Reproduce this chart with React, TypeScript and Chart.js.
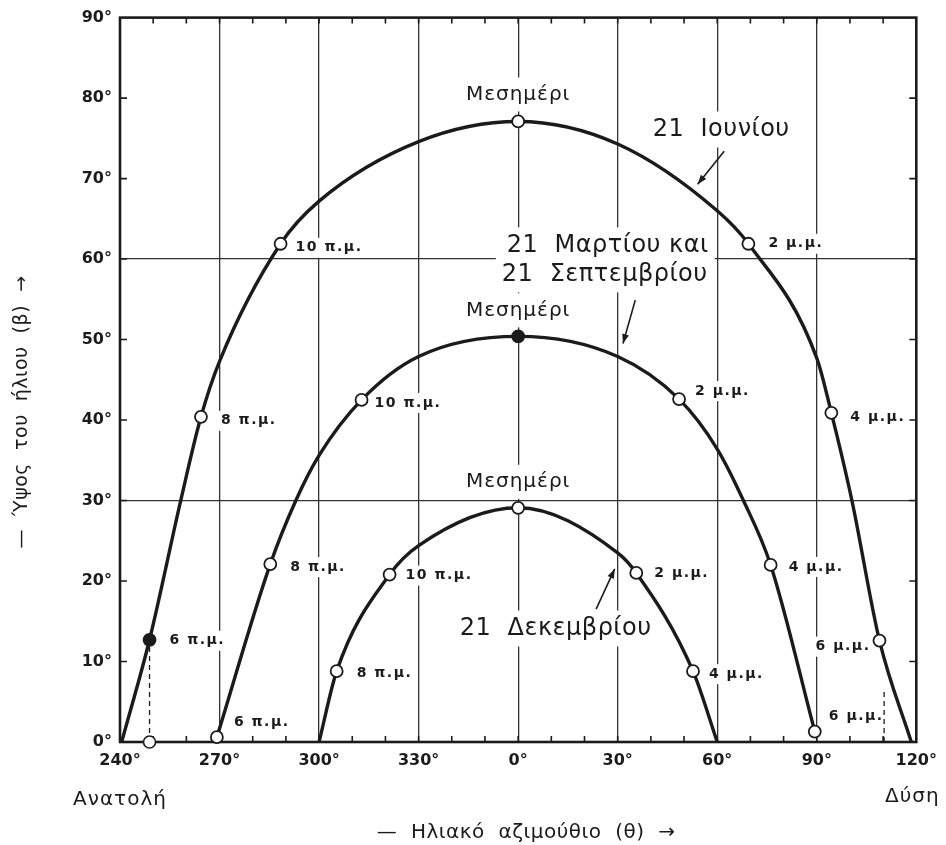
import React, { useEffect, useRef } from 'react';
import { Chart, registerables } from 'chart.js';

Chart.register(...registerables);

// ---------------- Data ----------------
const azimuthTicks = [-120, -90, -60, -30, 0, 30, 60, 90, 120];
const azimuthTickLabels = ['240°', '270°', '300°', '330°', '0°', '30°', '60°', '90°', '120°'];
const altitudeTicks = [0, 10, 20, 30, 40, 50, 60, 70, 80, 90];
const altitudeTickLabels = ['0°', '10°', '20°', '30°', '40°', '50°', '60°', '70°', '80°', '90°'];
const altitudeGridLines = [30, 60];

// 21 June path
const juneAzimuth = [-119.5, -111.1, -101.7, -95.6, -90, -71.6, -60, -30, 0, 30, 60, 69.4, 90, 94.4, 100.6, 108.9, 118.5];
const juneAltitude = [0, 12.7, 30, 40.4, 47.3, 61.9, 67.2, 74.6, 77.1, 74.3, 66.0, 61.9, 47.7, 40.9, 30, 12.6, 0];
const juneHourAzimuth = [-111.1, -95.6, -71.6, 0, 69.4, 94.4, 108.9];
const juneHourAltitude = [12.7, 40.4, 61.9, 77.1, 61.9, 40.9, 12.6];
const juneHourLabels = ['6 π.μ.', '8 π.μ.', '10 π.μ.', 'Μεσημέρι', '2 μ.μ.', '4 μ.μ.', '6 μ.μ.'];

// 21 March / 21 September path
const marchAzimuth = [-90.8, -74.7, -67.0, -60, -47.2, -30, 0, 30, 48.5, 60, 67.9, 76.1, 89.4];
const marchAltitude = [0.6, 22.1, 30, 35.6, 42.5, 47.9, 50.4, 47.9, 42.6, 36.4, 30, 22.0, 1.3];
const marchHourAzimuth = [-90.8, -74.7, -47.2, 0, 48.5, 76.1, 89.4];
const marchHourAltitude = [0.6, 22.1, 42.5, 50.4, 42.6, 22.0, 1.3];
const marchHourLabels = ['6 π.μ.', '8 π.μ.', '10 π.μ.', 'Μεσημέρι', '2 μ.μ.', '4 μ.μ.', '6 μ.μ.'];

// 21 December path
const decAzimuth = [-60, -54.7, -38.75, -30, 0, 30, 35.6, 52.7, 60];
const decAltitude = [0, 8.8, 20.8, 24.4, 29.1, 23.5, 21.0, 8.8, 0];
const decHourAzimuth = [-54.7, -38.75, 0, 35.6, 52.7];
const decHourAltitude = [8.8, 20.8, 29.1, 21.0, 8.8];
const decHourLabels = ['8 π.μ.', '10 π.μ.', 'Μεσημέρι', '2 μ.μ.', '4 μ.μ.'];

// dashed guides (June sunrise / sunset hours)
const sunriseGuideAzimuth = [-111.1, -111.1];
const sunriseGuideAltitude = [0, 12.7];
const sunsetGuideAzimuth = [110.3, 110.3];
const sunsetGuideAltitude = [0, 6.2];

const seriesTitles = ['21  Ιουνίου', '21  Μαρτίου και', '21  Σεπτεμβρίου', '21  Δεκεμβρίου'];
const eastLabel = 'Ανατολή';
const westLabel = 'Δύση';
const xAxisTitle = '—  Ηλιακό  αζιμούθιο  (θ)  →';
const yAxisTitle = '—  Ύψος  του  ήλιου  (β)  →';

// ---------------- Styles / placement ----------------
const INK = '#1b1b1b';
const GRID = '#333333';
const FAMILY = '"DejaVu Sans", "Noto Sans", sans-serif';

type Place = [number, number, 'left' | 'right' | 'center'];
const juneLabelPlace: Place[] = [[20, 1, 'left'], [20, 4, 'left'], [15, 4, 'left'], [0, -27, 'center'], [20, 0, 'left'], [19, 5, 'left'], [-9, 6, 'right']];
const marchLabelPlace: Place[] = [[17, -15, 'left'], [20, 3, 'left'], [13, 3, 'left'], [0, -26, 'center'], [16, -8, 'left'], [18, 2, 'left'], [14, -15, 'left']];
const decLabelPlace: Place[] = [[20, 2, 'left'], [16, 1, 'left'], [0, -26, 'center'], [18, 0, 'left'], [16, 3, 'left']];
const titlePlace = [
  { az: 61.2, alt: 76.1 },
  { az: 27.0, alt: 61.7 },
  { az: 26.1, alt: 58.1 },
  { az: 11.3, alt: 14.1 },
];
const arrowPlace = [
  { from: [62.1, 73.4], to: [54.1, 69.3] },
  { from: [35.3, 54.9], to: [31.6, 49.5] },
  { from: [23.5, 16.5], to: [29.1, 21.5] },
];

type Label = { text: string; x: number; y: number; align: 'left' | 'right' | 'center'; font: string; size: number; spacing: number; padX: number; padY: number };

function buildLabels(chart: any): Label[] {
  const xs = chart.scales.x;
  const ys = chart.scales.y;
  const out: Label[] = [];
  const addHours = (az: number[], alt: number[], texts: string[], place: Place[]) => {
    texts.forEach((t, i) => {
      const [dx, dy, align] = place[i];
      const noon = align === 'center';
      out.push({
        text: t,
        x: xs.getPixelForValue(az[i]) + dx,
        y: ys.getPixelForValue(alt[i]) + dy,
        align,
        font: noon ? `20px ${FAMILY}` : `bold 14px ${FAMILY}`,
        size: noon ? 20 : 14,
        spacing: noon ? 1 : 1.5,
        padX: noon ? 6 : 3,
        padY: noon ? 7 : 3,
      });
    });
  };
  addHours(juneHourAzimuth, juneHourAltitude, juneHourLabels, juneLabelPlace);
  addHours(marchHourAzimuth, marchHourAltitude, marchHourLabels, marchLabelPlace);
  addHours(decHourAzimuth, decHourAltitude, decHourLabels, decLabelPlace);
  seriesTitles.forEach((t, i) => {
    out.push({
      text: t,
      x: xs.getPixelForValue(titlePlace[i].az),
      y: ys.getPixelForValue(titlePlace[i].alt),
      align: 'center',
      font: `24px ${FAMILY}`,
      size: 24,
      spacing: 0.5,
      padX: 6,
      padY: 6,
    });
  });
  return out;
}

function setFont(ctx: CanvasRenderingContext2D, l: { font: string; spacing: number }) {
  ctx.font = l.font;
  try {
    (ctx as any).letterSpacing = `${l.spacing}px`;
  } catch (e) {
    /* ignore */
  }
}

const annotate = {
  id: 'annotate',
  beforeDatasetsDraw(chart: any) {
    const { ctx, chartArea } = chart;
    const xs = chart.scales.x;
    const ys = chart.scales.y;
    const labels = buildLabels(chart);
    ctx.save();
    ctx.fillStyle = '#ffffff';
    labels.forEach((l) => {
      setFont(ctx, l);
      const w = ctx.measureText(l.text).width;
      let left = l.x;
      if (l.align === 'center') left = l.x - w / 2;
      if (l.align === 'right') left = l.x - w;
      ctx.fillRect(left - l.padX, l.y - l.size / 2 - l.padY, w + 2 * l.padX, l.size + 2 * l.padY);
    });
    (ctx as any).letterSpacing = '0px';
    ctx.strokeStyle = INK;
    ctx.lineWidth = 2.6;
    ctx.strokeRect(chartArea.left, chartArea.top, chartArea.right - chartArea.left, chartArea.bottom - chartArea.top);
    ctx.lineWidth = 1.6;
    ctx.beginPath();
    for (let v = -110; v <= 110; v += 10) {
      const px = xs.getPixelForValue(v);
      ctx.moveTo(px, chartArea.bottom);
      ctx.lineTo(px, chartArea.bottom - 6);
      ctx.moveTo(px, chartArea.top);
      ctx.lineTo(px, chartArea.top + 6);
    }
    for (let v = 10; v <= 80; v += 10) {
      const py = ys.getPixelForValue(v);
      ctx.moveTo(chartArea.left, py);
      ctx.lineTo(chartArea.left + 7, py);
      ctx.moveTo(chartArea.right, py);
      ctx.lineTo(chartArea.right - 7, py);
    }
    ctx.stroke();
    ctx.restore();
  },
  afterDatasetsDraw(chart: any) {
    const { ctx } = chart;
    const xs = chart.scales.x;
    const ys = chart.scales.y;
    const labels = buildLabels(chart);
    ctx.save();
    ctx.fillStyle = INK;
    ctx.textBaseline = 'middle';
    labels.forEach((l) => {
      setFont(ctx, l);
      ctx.textAlign = l.align;
      ctx.fillText(l.text, l.x, l.y);
    });
    (ctx as any).letterSpacing = '0px';
    ctx.strokeStyle = INK;
    ctx.lineWidth = 1.6;
    arrowPlace.forEach((a) => {
      const x1 = xs.getPixelForValue(a.from[0]);
      const y1 = ys.getPixelForValue(a.from[1]);
      const x2 = xs.getPixelForValue(a.to[0]);
      const y2 = ys.getPixelForValue(a.to[1]);
      ctx.beginPath();
      ctx.moveTo(x1, y1);
      ctx.lineTo(x2, y2);
      ctx.stroke();
      const ang = Math.atan2(y2 - y1, x2 - x1);
      const hl = 10;
      ctx.beginPath();
      ctx.moveTo(x2, y2);
      ctx.lineTo(x2 - hl * Math.cos(ang - 0.35), y2 - hl * Math.sin(ang - 0.35));
      ctx.lineTo(x2 - hl * Math.cos(ang + 0.35), y2 - hl * Math.sin(ang + 0.35));
      ctx.closePath();
      ctx.fill();
    });
    ctx.restore();
  },
  afterDraw(chart: any) {
    const { ctx, chartArea } = chart;
    const xs = chart.scales.x;
    ctx.save();
    ctx.fillStyle = INK;
    ctx.textBaseline = 'middle';
    ctx.font = `20px ${FAMILY}`;
    (ctx as any).letterSpacing = '1px';
    ctx.textAlign = 'center';
    ctx.fillText(eastLabel, xs.getPixelForValue(-120), 800);
    ctx.fillText(westLabel, xs.getPixelForValue(120) - 4, 797);
    ctx.font = `20px ${FAMILY}`;
    (ctx as any).letterSpacing = '0.5px';
    ctx.fillText(xAxisTitle, (chartArea.left + chartArea.right) / 2 + 8, 833);
    ctx.font = `19px ${FAMILY}`;
    ctx.translate(22, 412);
    ctx.rotate(-Math.PI / 2);
    ctx.fillText(yAxisTitle, 0, 0);
    ctx.restore();
  },
};

export default function App() {
  const ref = useRef<HTMLCanvasElement>(null);

  useEffect(() => {
    if (!ref.current) return;
    const toPts = (xs: number[], ys: number[]) => xs.map((x, i) => ({ x, y: ys[i] }));
    const curve = (label: string, xs: number[], ys: number[]) => ({
      type: 'line' as const,
      label,
      data: toPts(xs, ys),
      borderColor: INK,
      borderWidth: 3.4,
      pointRadius: 0,
      cubicInterpolationMode: 'monotone' as const,
      fill: false,
      order: 3,
    });
    const markers = (label: string, xs: number[], ys: number[], filled: number[]) => ({
      type: 'scatter' as const,
      label,
      data: toPts(xs, ys),
      showLine: false,
      pointRadius: 6,
      pointHoverRadius: 6,
      pointBorderWidth: 1.8,
      pointBorderColor: INK,
      pointBackgroundColor: (c: any) => (filled.includes(c.dataIndex) ? INK : '#ffffff'),
      clip: false as any,
      order: 1,
    });
    const guide = (label: string, xs: number[], ys: number[], radius: number[]) => ({
      type: 'line' as const,
      label,
      data: toPts(xs, ys),
      borderColor: INK,
      borderWidth: 1.3,
      borderDash: [5, 4],
      pointRadius: radius,
      pointBorderWidth: 1.6,
      pointBorderColor: INK,
      pointBackgroundColor: '#ffffff',
      clip: false as any,
      order: 2,
    });

    const tickFont = { family: FAMILY, size: 16, weight: 'bold' as const };

    const chart = new Chart(ref.current, {
      type: 'line',
      data: {
        datasets: [
          curve('21 Ιουνίου', juneAzimuth, juneAltitude),
          curve('21 Μαρτίου και 21 Σεπτεμβρίου', marchAzimuth, marchAltitude),
          curve('21 Δεκεμβρίου', decAzimuth, decAltitude),
          guide('sunrise', sunriseGuideAzimuth, sunriseGuideAltitude, [6, 0]),
          guide('sunset', sunsetGuideAzimuth, sunsetGuideAltitude, [0, 0]),
          markers('Ιούνιος ώρες', juneHourAzimuth, juneHourAltitude, [0]),
          markers('Μάρτιος ώρες', marchHourAzimuth, marchHourAltitude, [3]),
          markers('Δεκέμβριος ώρες', decHourAzimuth, decHourAltitude, []),
        ] as any,
      },
      options: {
        responsive: false,
        animation: false,
        events: [],
        layout: { padding: { top: 16, right: 28, left: 0, bottom: 0 } },
        plugins: { legend: { display: false }, tooltip: { enabled: false } },
        scales: {
          x: {
            type: 'linear',
            min: -120,
            max: 120,
            afterBuildTicks: (s: any) => {
              s.ticks = azimuthTicks.map((v) => ({ value: v }));
            },
            ticks: {
              callback: (v: any) => {
                const i = azimuthTicks.indexOf(Number(v));
                return i >= 0 ? azimuthTickLabels[i] : '';
              },
              font: tickFont,
              color: INK,
              padding: 9,
              maxRotation: 0,
              autoSkip: false,
            },
            grid: {
              color: (c: any) => (c.tick && Math.abs(c.tick.value) < 120 ? GRID : 'rgba(0,0,0,0)'),
              lineWidth: 1.3,
              drawTicks: false,
            },
            border: { display: false },
            afterFit: (s: any) => {
              s.height = 103;
            },
          },
          y: {
            type: 'linear',
            min: 0,
            max: 90,
            afterBuildTicks: (s: any) => {
              s.ticks = altitudeTicks.map((v) => ({ value: v }));
            },
            ticks: {
              callback: (v: any) => {
                const i = altitudeTicks.indexOf(Number(v));
                return i >= 0 ? altitudeTickLabels[i] : '';
              },
              font: tickFont,
              color: INK,
              padding: 8,
              autoSkip: false,
            },
            grid: {
              color: (c: any) => (c.tick && altitudeGridLines.includes(c.tick.value) ? GRID : 'rgba(0,0,0,0)'),
              lineWidth: 1.3,
              drawTicks: false,
            },
            border: { display: false },
            afterFit: (s: any) => {
              s.width = 120;
            },
          },
        },
      },
      plugins: [annotate as any],
    });
    return () => chart.destroy();
  }, []);

  return (
    <div style={{ position: 'absolute', left: 0, top: 0, width: 946, height: 845, background: '#ffffff' }}>
      <canvas ref={ref} width={946} height={845} style={{ display: 'block' }} />
    </div>
  );
}
